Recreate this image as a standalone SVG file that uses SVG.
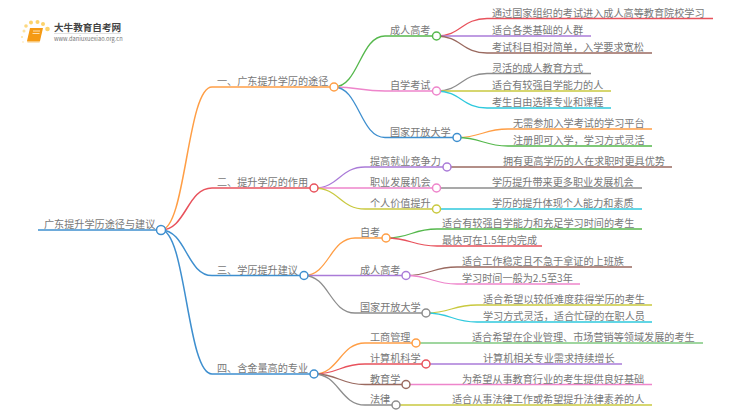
<svg xmlns="http://www.w3.org/2000/svg" width="750" height="410" viewBox="0 0 750 410">
<style>
text{font-family:"Noto Sans CJK SC","Noto Sans",sans-serif;font-size:10.15px;fill:#787878}
.l{fill:none;stroke-width:1.3}
.m{stroke-width:1.5}
.or{stroke:#ff9e45}.re{stroke:#e8525c}.gr{stroke:#55b84c}.pi{stroke:#ee85cb}.bl{stroke:#3e8fcf}.pu{stroke:#aa7bd8}.br{stroke:#9a6a60}.ga{stroke:#8d8d8d}.ye{stroke:#c9c93f}.cy{stroke:#2fc9dd}.lg{stroke:#7fc97f}
circle{fill:#fff;stroke-width:1.5}
.d{stroke:none}
</style>
<rect width="750" height="410" fill="#fff"/>
<g id="logo">
<circle class="d" cx="24" cy="31" r="1.5" style="fill:#fde3a0"/><circle class="d" cx="22" cy="37" r="1" style="fill:#fde3a0"/><circle class="d" cx="26" cy="26" r="1.8" style="fill:#fcd880"/><circle class="d" cx="31" cy="22.500" r="2" style="fill:#fcd36b"/><circle class="d" cx="37.500" cy="22" r="2" style="fill:#fcd36b"/><circle class="d" cx="43" cy="24" r="2" style="fill:#fcd36b"/><circle class="d" cx="47.500" cy="29" r="2.300" style="fill:#fcd36b"/><circle class="d" cx="23" cy="42" r="0.900" style="fill:#feedc8"/>
<path d="M30 28H43L40 41H27Z" fill="#f59a14"/>
<path d="M27 41H40L39.500 42.500H27.500Z" fill="#f8c77a"/>
<path d="M33 31H40M32.500 33.500H39.500" stroke="#fde0b0" stroke-width="1" fill="none"/>
<text x="54" y="31" style="font-size:9.600px;font-weight:700;fill:#444">大牛教育自考网</text>
<path d="M54 33.500H121" stroke="#ccc" stroke-width="0.600"/>
<text x="54" y="41" style="font-size:5.700px;fill:#777">www.daniuxuexiao.org.cn</text>
</g>
<g id="connectors">
<path class="l m bl" d="M38 230H161"/>
<path class="l m or" d="M161 230C186 230 187 87 212 87H334"/>
<path class="l m re" d="M161 230C186 230 187 188 212 188H314"/>
<path class="l m bl" d="M161 230C186 230 187 275.500 212 275.500H304"/>
<path class="l m bl" d="M161 230C186 230 187 374 212 374H314"/>
<path class="l gr" d="M334 87C359 87 360 36 385 36H436.500"/>
<path class="l pi" d="M334 87C359 87 360 91 385 91H436.500"/>
<path class="l bl" d="M334 87C359 87 360 137.500 385 137.500H457"/>
<path class="l pu" d="M314 188C339 188 340 167 365 167H447"/>
<path class="l pi" d="M314 188C339 188 340 188 365 188H436.500"/>
<path class="l ye" d="M314 188C339 188 340 209 365 209H436.500"/>
<path class="l or" d="M304 275.500C329 275.500 330 238 355 238H386"/>
<path class="l pu" d="M304 275.500C329 275.500 330 275.500 355 275.500H406"/>
<path class="l ga" d="M304 275.500C329 275.500 330 313 355 313H426"/>
<path class="l or" d="M314 374C339 374 340 343 365 343H416"/>
<path class="l re" d="M314 374C339 374 340 364 365 364H426"/>
<path class="l br" d="M314 374C339 374 340 384.500 365 384.500H406"/>
<path class="l ga" d="M314 374C339 374 340 405 365 405H396"/>
<path class="l re" d="M436.500 36C461 36 462 18.500 487 18.500H713"/>
<path class="l pu" d="M436.500 36C461 36 462 36 487 36H591"/>
<path class="l br" d="M436.500 36C461 36 462 53 487 53H652"/>
<path class="l ga" d="M436.500 91C461 91 462 73.500 487 73.500H591"/>
<path class="l ye" d="M436.500 91C461 91 462 91 487 91H611"/>
<path class="l cy" d="M436.500 91C461 91 462 108 487 108H611"/>
<path class="l or" d="M457 137.500C482 137.500 483 129 508 129H652"/>
<path class="l gr" d="M457 137.500C482 137.500 483 146 508 146H652"/>
<path class="l br" d="M447 167H672"/>
<path class="l ga" d="M436.500 188H642"/>
<path class="l cy" d="M436.500 209H642"/>
<path class="l gr" d="M386 238C411 238 412 229 437 229H642"/>
<path class="l re" d="M386 238C411 238 412 246 437 246H542"/>
<path class="l br" d="M406 275.500C431 275.500 432 267 457 267H632"/>
<path class="l pi" d="M406 275.500C431 275.500 432 284 457 284H580"/>
<path class="l ye" d="M426 313C451 313 452 305 477 305H652"/>
<path class="l cy" d="M426 313C451 313 452 322 477 322H652"/>
<path class="l lg" d="M416 343H703"/>
<path class="l pu" d="M426 364H622"/>
<path class="l pi" d="M406 384.500H652"/>
<path class="l ye" d="M396 405H652"/>
</g>
<g id="root"><text x="44" y="228">广东提升学历途径与建议</text><circle class="bl" cx="161" cy="230" r="4.500"/></g>
<g id="b1"><text x="217" y="85">一、广东提升学历的途径</text><circle class="or" cx="334" cy="87" r="4"/></g>
<g id="b2"><text x="217" y="186">二、提升学历的作用</text><circle class="re" cx="314" cy="188" r="4"/></g>
<g id="b3"><text x="217" y="273.500">三、学历提升建议</text><circle class="bl" cx="304" cy="275.500" r="4"/></g>
<g id="b4"><text x="217" y="372">四、含金量高的专业</text><circle class="bl" cx="314" cy="374" r="4"/></g>
<g id="n11"><text x="390" y="34">成人高考</text><circle class="gr" cx="436.500" cy="36" r="4"/></g>
<g id="n12"><text x="390" y="89">自学考试</text><circle class="pi" cx="436.500" cy="91" r="4"/></g>
<g id="n13"><text x="390" y="135.500">国家开放大学</text><circle class="bl" cx="457" cy="137.500" r="4"/></g>
<g id="n21"><text x="370" y="165">提高就业竞争力</text><circle class="pu" cx="447" cy="167" r="4"/></g>
<g id="n22"><text x="370" y="186">职业发展机会</text><circle class="pi" cx="436.500" cy="188" r="4"/></g>
<g id="n23"><text x="370" y="207">个人价值提升</text><circle class="ye" cx="436.500" cy="209" r="4"/></g>
<g id="n31"><text x="360" y="236">自考</text><circle class="or" cx="386" cy="238" r="4"/></g>
<g id="n32"><text x="360" y="273.500">成人高考</text><circle class="pu" cx="406" cy="275.500" r="4"/></g>
<g id="n33"><text x="360" y="311">国家开放大学</text><circle class="ga" cx="426" cy="313" r="4"/></g>
<g id="n41"><text x="370" y="341">工商管理</text><circle class="or" cx="416" cy="343" r="4"/></g>
<g id="n42"><text x="370" y="362">计算机科学</text><circle class="re" cx="426" cy="364" r="4"/></g>
<g id="n43"><text x="370" y="382.500">教育学</text><circle class="br" cx="406" cy="384.500" r="4"/></g>
<g id="n44"><text x="370" y="403">法律</text><circle class="ga" cx="396" cy="405" r="4"/></g>
<g id="leaves">
<text x="492" y="16.500">通过国家组织的考试进入成人高等教育院校学习</text>
<text x="492" y="34">适合各类基础的人群</text>
<text x="492" y="51">考试科目相对简单，入学要求宽松</text>
<text x="492" y="71.500">灵活的成人教育方式</text>
<text x="492" y="89">适合有较强自学能力的人</text>
<text x="492" y="106">考生自由选择专业和课程</text>
<text x="513" y="127">无需参加入学考试的学习平台</text>
<text x="513" y="144">注册即可入学，学习方式灵活</text>
<text x="503" y="165">拥有更高学历的人在求职时更具优势</text>
<text x="492" y="186">学历提升带来更多职业发展机会</text>
<text x="492" y="207">学历的提升体现个人能力和素质</text>
<text x="442" y="227">适合有较强自学能力和充足学习时间的考生</text>
<text x="442" y="244">最快可在1.5年内完成</text>
<text x="462" y="265">适合工作稳定且不急于拿证的上班族</text>
<text x="462" y="282">学习时间一般为2.5至3年</text>
<text x="483" y="303">适合希望以较低难度获得学历的考生</text>
<text x="483" y="320">学习方式灵活，适合忙碌的在职人员</text>
<text x="472" y="341">适合希望在企业管理、市场营销等领域发展的考生</text>
<text x="483" y="362">计算机相关专业需求持续增长</text>
<text x="462" y="382.500">为希望从事教育行业的考生提供良好基础</text>
<text x="452" y="403">适合从事法律工作或希望提升法律素养的人</text>
</g>
</svg>
